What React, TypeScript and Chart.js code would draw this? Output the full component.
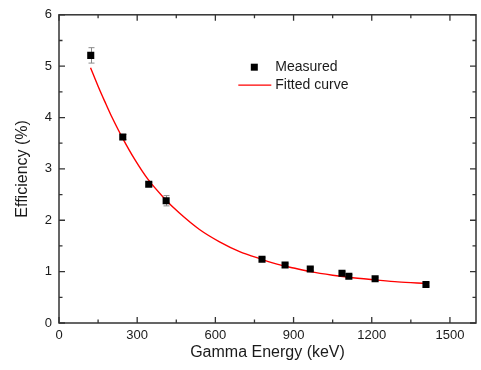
import React, { useEffect, useRef } from 'react';
import { Chart, registerables } from 'chart.js';

Chart.register(...registerables);

// Measured points (gamma energy in keV, efficiency in %)
const energies = [121.8, 244.7, 344.3, 411.1, 778.9, 867.4, 964.1, 1085.8, 1112.1, 1212.9, 1408.0];
const efficiencies = [5.21, 3.62, 2.70, 2.38, 1.24, 1.13, 1.05, 0.97, 0.91, 0.86, 0.75];
const errors = [0.15, 0.05, 0.04, 0.1, 0.03, 0.03, 0.03, 0.03, 0.03, 0.03, 0.03];

// Fitted curve
const fitEnergies = [121, 150, 175, 200, 244, 290, 341, 400, 462, 539, 616, 693, 778, 840, 900, 964, 1050, 1112, 1213, 1300, 1408];
const fitEfficiencies = [4.97, 4.61, 4.32, 4.04, 3.60, 3.19, 2.80, 2.45, 2.14, 1.82, 1.58, 1.39, 1.24, 1.14, 1.07, 1.00, 0.93, 0.89, 0.84, 0.80, 0.77];

const xTicks = [0, 300, 600, 900, 1200, 1500];
const xMinorTicks = [150, 450, 750, 1050, 1350];
const yTicks = [0, 1, 2, 3, 4, 5, 6];
const yMinorTicks = [0.5, 1.5, 2.5, 3.5, 4.5, 5.5];

const seriesLabels = ['Measured', 'Fitted curve'];

const AXIS_COLOR = '#333333';
const TEXT_COLOR = '#1a1a1a';
const FONT = '"Liberation Sans", Arial, sans-serif';

const framePlugin = {
  id: 'frameAndExtras',
  beforeDatasetsDraw(chart: any) {
    const ctx = chart.ctx;
    const xs = chart.scales.x;
    const ys = chart.scales.y;
    ctx.save();
    ctx.strokeStyle = '#8a8a8a';
    ctx.lineWidth = 1;
    energies.forEach((e, i) => {
      const px = Math.round(xs.getPixelForValue(e)) + 0.5;
      const y1 = ys.getPixelForValue(efficiencies[i] - errors[i]);
      const y2 = ys.getPixelForValue(efficiencies[i] + errors[i]);
      ctx.beginPath();
      ctx.moveTo(px, y1);
      ctx.lineTo(px, y2);
      ctx.moveTo(px - 3, y1);
      ctx.lineTo(px + 3, y1);
      ctx.moveTo(px - 3, y2);
      ctx.lineTo(px + 3, y2);
      ctx.stroke();
    });
    ctx.restore();
  },
  afterDraw(chart: any) {
    const ctx = chart.ctx;
    const { left, right, top, bottom } = chart.chartArea;
    const xs = chart.scales.x;
    const ys = chart.scales.y;
    ctx.save();
    ctx.strokeStyle = AXIS_COLOR;
    ctx.lineWidth = 1.5;
    ctx.strokeRect(left, top, right - left, bottom - top);
    const major = 6;
    const minor = 3.5;
    ctx.lineWidth = 1.3;
    ctx.beginPath();
    const xt = (v: number, len: number) => {
      const px = xs.getPixelForValue(v);
      ctx.moveTo(px, bottom);
      ctx.lineTo(px, bottom - len);
      ctx.moveTo(px, top);
      ctx.lineTo(px, top + len);
    };
    const yt = (v: number, len: number) => {
      const py = ys.getPixelForValue(v);
      ctx.moveTo(left, py);
      ctx.lineTo(left + len, py);
      ctx.moveTo(right, py);
      ctx.lineTo(right - len, py);
    };
    xTicks.forEach((v) => xt(v, major));
    xMinorTicks.forEach((v) => xt(v, minor));
    yTicks.forEach((v) => yt(v, major));
    yMinorTicks.forEach((v) => yt(v, minor));
    ctx.stroke();

    // legend inside the plot
    const w = right - left;
    const h = bottom - top;
    const lx = left + w * 0.43;
    const ly1 = top + h * 0.17;
    const ly2 = top + h * 0.228;
    ctx.fillStyle = '#000';
    ctx.fillRect(lx + 12.5, ly1 - 3.5, 7, 7);
    ctx.strokeStyle = '#ff0000';
    ctx.lineWidth = 1.3;
    ctx.beginPath();
    ctx.moveTo(lx, ly2);
    ctx.lineTo(lx + 33, ly2);
    ctx.stroke();
    ctx.fillStyle = TEXT_COLOR;
    ctx.font = `14px ${FONT}`;
    ctx.textBaseline = 'middle';
    ctx.textAlign = 'left';
    ctx.fillText(seriesLabels[0], lx + 37, ly1);
    ctx.fillText(seriesLabels[1], lx + 37, ly2);
    ctx.restore();
  },
};

export default function App() {
  const canvasRef = useRef<HTMLCanvasElement | null>(null);

  useEffect(() => {
    document.body.style.margin = '0';
    const canvas = canvasRef.current;
    if (!canvas) return;
    const chart = new Chart(canvas, {
      type: 'scatter',
      data: {
        datasets: [
          {
            label: seriesLabels[0],
            data: energies.map((e, i) => ({ x: e, y: efficiencies[i] })),
            pointStyle: 'rect',
            pointRadius: 5,
            pointBackgroundColor: '#000',
            pointBorderColor: '#000',
            pointBorderWidth: 0,
            showLine: false,
          },
          {
            label: seriesLabels[1],
            data: fitEnergies.map((e, i) => ({ x: e, y: fitEfficiencies[i] })),
            showLine: true,
            borderColor: '#ff0000',
            borderWidth: 1.4,
            pointRadius: 0,
            tension: 0.3,
            fill: false,
          },
        ],
      },
      options: {
        animation: false,
        responsive: false,
        maintainAspectRatio: false,
        layout: { padding: { left: 0, right: 4, top: 12, bottom: 0 } },
        plugins: {
          legend: { display: false },
          tooltip: { enabled: false },
        },
        scales: {
          x: {
            type: 'linear',
            min: 0,
            max: 1600,
            afterBuildTicks: (scale: any) => {
              scale.ticks = xTicks.map((v) => ({ value: v }));
            },
            afterFit: (scale: any) => {
              scale.height = 47;
            },
            grid: { display: true, drawOnChartArea: false, drawTicks: false },
            border: { display: false },
            ticks: {
              color: TEXT_COLOR,
              font: { family: FONT, size: 13 },
              padding: 5,
              maxRotation: 0,
              callback: (v: any) => String(v),
            },
            title: {
              display: true,
              text: 'Gamma Energy (keV)',
              color: TEXT_COLOR,
              font: { family: FONT, size: 16 },
              padding: { top: 0, bottom: 8 },
            },
          },
          y: {
            type: 'linear',
            min: 0,
            max: 6,
            afterBuildTicks: (scale: any) => {
              scale.ticks = yTicks.map((v) => ({ value: v }));
            },
            afterFit: (scale: any) => {
              scale.width = 59;
            },
            grid: { display: true, drawOnChartArea: false, drawTicks: false },
            border: { display: false },
            ticks: {
              color: TEXT_COLOR,
              font: { family: FONT, size: 13 },
              padding: 7,
              callback: (v: any) => String(v),
            },
            title: {
              display: true,
              text: 'Efficiency (%)',
              color: TEXT_COLOR,
              font: { family: FONT, size: 16 },
              padding: { top: 13, bottom: 0 },
            },
          },
        },
      },
      plugins: [framePlugin],
    });
    return () => chart.destroy();
  }, []);

  return (
    <div style={{ width: 481, height: 370 }}>
      <canvas ref={canvasRef} width={481} height={370} style={{ display: 'block' }} />
    </div>
  );
}
